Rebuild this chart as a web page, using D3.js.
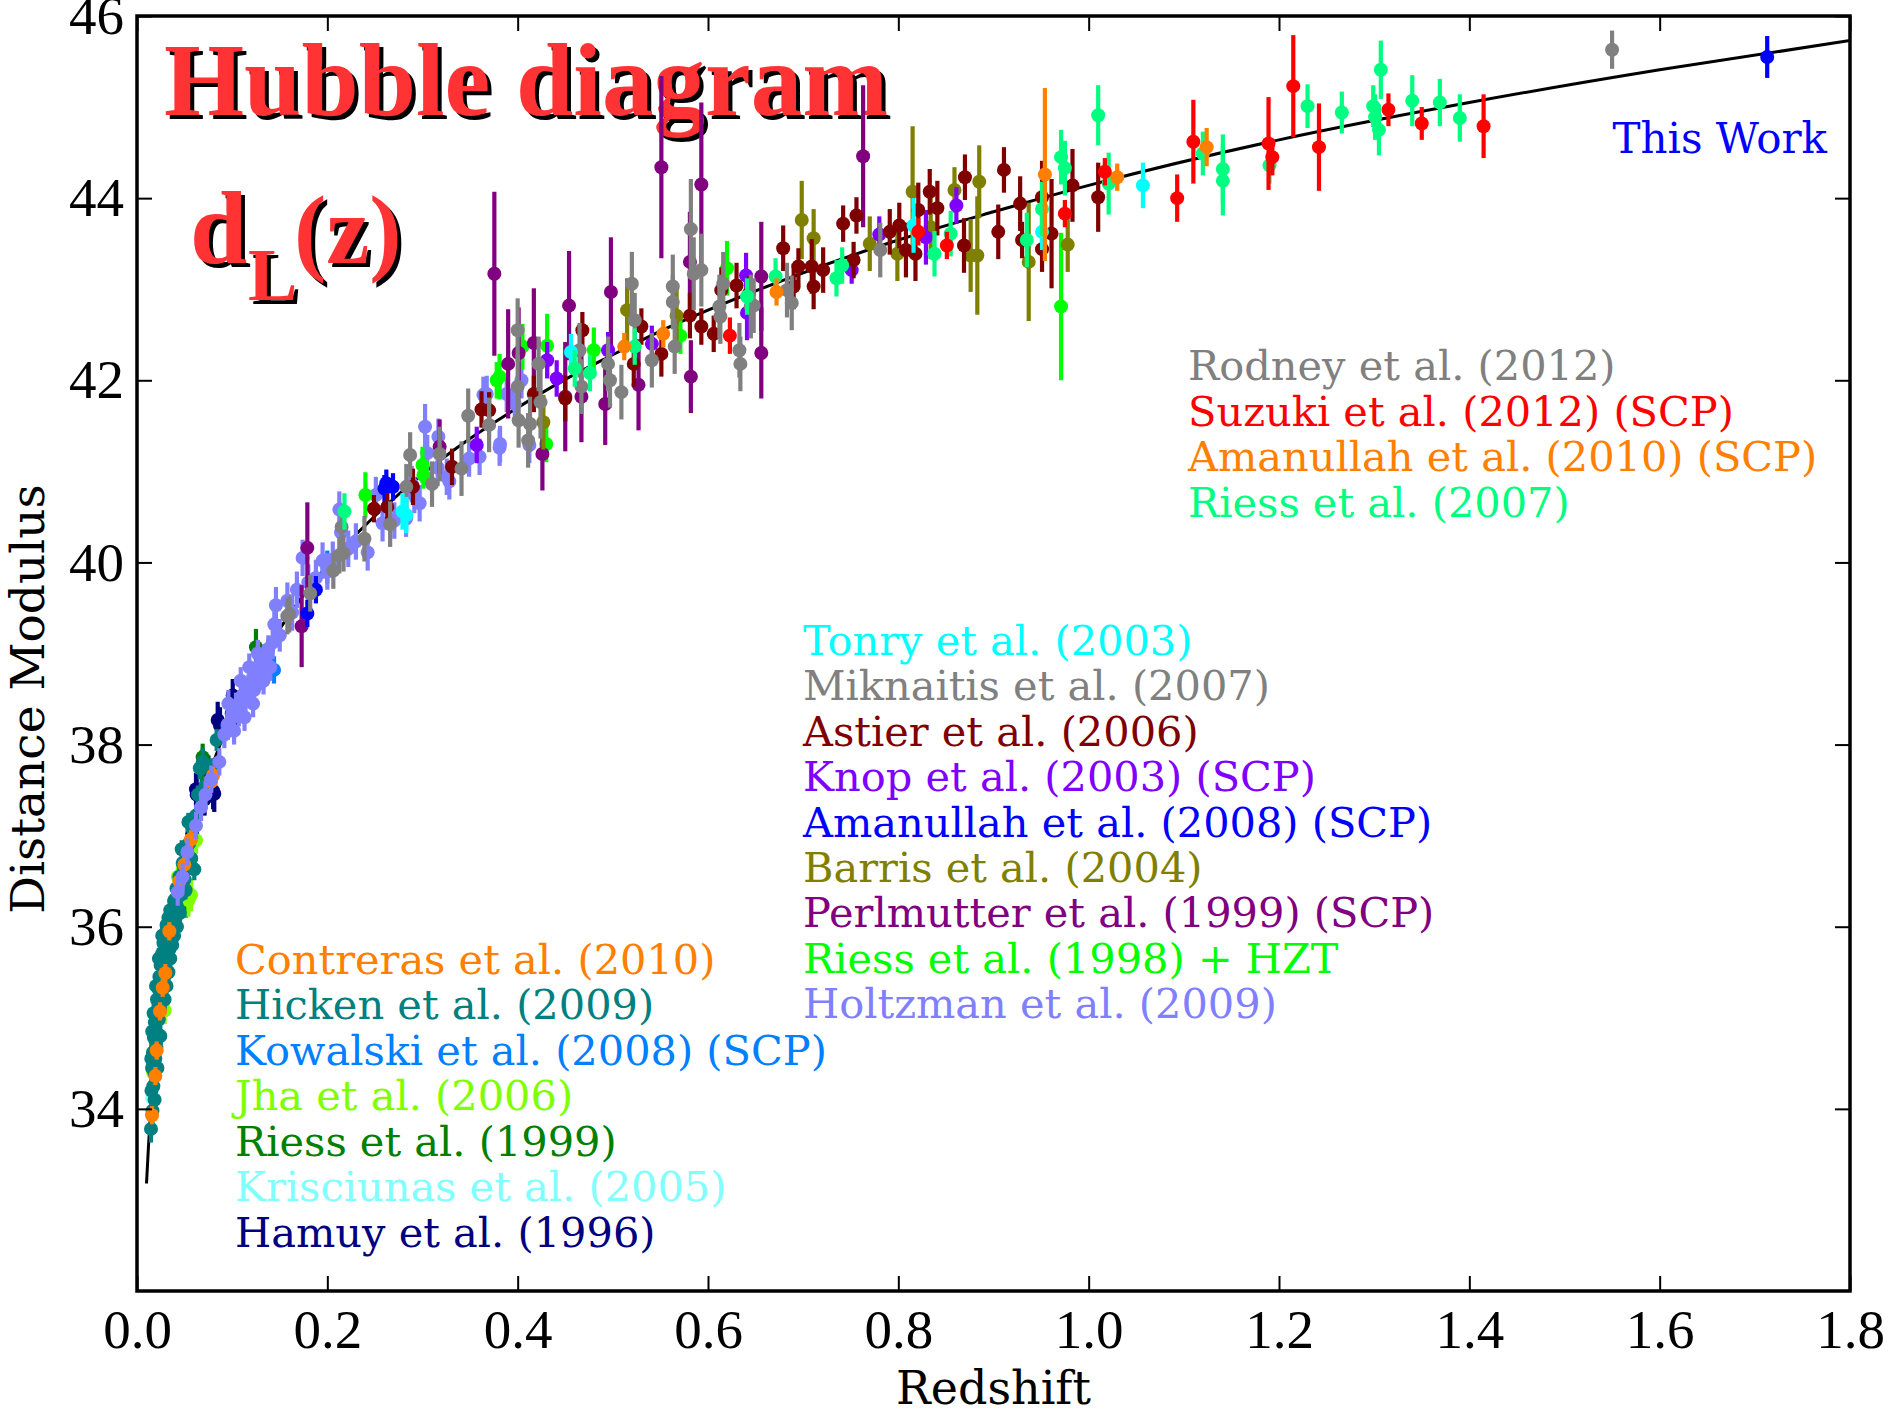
<!DOCTYPE html>
<html><head><meta charset="utf-8">
<script src="https://cdn.jsdelivr.net/npm/d3@7"></script>
<style>html,body{margin:0;padding:0;background:#fff}svg{display:block}</style>
</head><body>
<svg id="chart" width="1893" height="1411"></svg>
<script>
// ---------- DATA: [redshift, distance modulus, error] ----------
const hamuy = [[0.0245,35.12,0.2],[0.030,35.72,0.2],[0.038,36.08,0.18],[0.0445,36.25,0.18],[0.049,36.62,0.18],[0.054,36.79,0.2],[0.055,36.75,0.18],[0.058,37.02,0.18],[0.062,37.51,0.18],[0.0627,37.45,0.2],[0.071,37.40,0.18],[0.075,37.70,0.18],[0.080,37.49,0.2],[0.0812,37.46,0.2],[0.0848,38.27,0.2],[0.0872,38.21,0.2],[0.0995,38.34,0.18],[0.1006,38.54,0.18],[0.104,38.37,0.18]];
const krisciunas = [[0.016,34.12,0.15],[0.024,35.20,0.15],[0.031,35.62,0.15],[0.038,36.02,0.15],[0.044,36.42,0.15]];
const riess1999 = [[0.021,34.82,0.18],[0.032,35.92,0.18],[0.040,36.30,0.18],[0.0515,36.30,0.2],[0.068,37.74,0.2],[0.069,37.86,0.15],[0.125,39.07,0.2]];
const jha = [[0.017,34.40,0.15],[0.0224,35.06,0.15],[0.028,35.60,0.15],[0.029,35.08,0.15],[0.043,36.55,0.15],[0.054,36.29,0.18],[0.0568,36.35,0.18],[0.062,36.95,0.15]];
const kowalski = [[0.020,34.72,0.15],[0.036,36.05,0.15],[0.060,37.10,0.15],[0.095,38.20,0.15],[0.144,38.82,0.15],[0.200,39.95,0.18]];
const hicken = [[0.0147,33.78,0.15],[0.0150,34.55,0.15],[0.0152,34.20,0.15],[0.0158,34.45,0.15],[0.0160,34.85,0.15],[0.0163,33.98,0.15],[0.0168,34.62,0.15],[0.0172,34.25,0.14],[0.0175,35.05,0.14],[0.0178,34.78,0.14],[0.0183,34.40,0.14],[0.0185,34.10,0.14],[0.0188,34.95,0.14],[0.0193,34.55,0.14],[0.0199,35.05,0.13],[0.0200,35.35,0.13],[0.0204,34.68,0.13],[0.021,35.20,0.13],[0.0215,34.45,0.13],[0.0216,34.82,0.13],[0.0222,35.32,0.13],[0.0228,34.98,0.13],[0.0230,35.65,0.12],[0.0235,35.45,0.12],[0.024,35.10,0.12],[0.0245,34.80,0.12],[0.0248,35.58,0.12],[0.0255,35.22,0.12],[0.0262,35.70,0.12],[0.0265,35.90,0.12],[0.027,35.35,0.12],[0.0278,35.82,0.12],[0.0285,35.45,0.11],[0.0290,35.20,0.11],[0.0292,35.92,0.11],[0.030,35.55,0.11],[0.031,36.02,0.11],[0.0310,35.35,0.11],[0.032,35.65,0.11],[0.033,36.10,0.11],[0.0330,35.50,0.11],[0.034,35.75,0.11],[0.035,36.18,0.1],[0.0350,35.65,0.1],[0.036,35.85,0.1],[0.037,36.05,0.1],[0.0370,35.80,0.1],[0.038,35.95,0.1],[0.039,36.28,0.1],[0.0390,35.90,0.1],[0.040,36.10,0.1],[0.0415,36.42,0.1],[0.0420,36.00,0.1],[0.043,36.20,0.1],[0.0445,36.55,0.1],[0.0450,36.15,0.1],[0.046,36.35,0.1],[0.0470,36.85,0.1],[0.048,36.70,0.1],[0.050,36.52,0.1],[0.0510,36.40,0.1],[0.052,36.85,0.1],[0.0540,37.15,0.1],[0.055,36.92,0.1],[0.0570,36.75,0.1],[0.058,37.08,0.1],[0.0602,36.63,0.12],[0.062,37.22,0.1],[0.0640,37.45,0.1],[0.066,37.74,0.12],[0.069,37.81,0.15],[0.072,37.55,0.1],[0.078,37.75,0.1],[0.0837,38.05,0.12]];
const contreras = [[0.0158,33.93,0.1],[0.0193,34.36,0.1],[0.0207,34.64,0.1],[0.0242,35.07,0.1],[0.0270,35.33,0.1],[0.0298,35.49,0.1],[0.0340,35.95,0.1],[0.0445,36.50,0.1],[0.0497,36.68,0.1],[0.0568,36.96,0.1],[0.0778,37.59,0.1],[0.080,37.66,0.1]];
const holtzman = [[0.0428,36.38,0.15],[0.048,36.55,0.15],[0.053,36.82,0.15],[0.062,37.11,0.15],[0.0673,37.31,0.15],[0.072,37.45,0.15],[0.078,37.62,0.15],[0.0865,37.81,0.15],[0.0918,38.11,0.15],[0.0953,38.22,0.15],[0.096,38.45,0.15],[0.100,38.30,0.15],[0.102,38.15,0.15],[0.104,38.42,0.15],[0.107,38.35,0.15],[0.109,38.70,0.15],[0.111,38.54,0.15],[0.113,38.30,0.15],[0.114,38.48,0.15],[0.117,38.62,0.15],[0.118,38.85,0.15],[0.120,38.67,0.15],[0.122,38.45,0.15],[0.123,38.60,0.15],[0.126,38.80,0.15],[0.127,39.00,0.15],[0.1286,38.87,0.15],[0.131,38.75,0.15],[0.133,38.70,0.15],[0.134,38.95,0.15],[0.138,39.05,0.15],[0.140,38.85,0.15],[0.1426,39.12,0.18],[0.1443,39.32,0.18],[0.146,39.53,0.2],[0.150,39.20,0.18],[0.158,39.58,0.2],[0.163,39.45,0.2],[0.168,39.70,0.2],[0.174,40.05,0.2],[0.180,39.78,0.2],[0.188,39.83,0.2],[0.195,40.02,0.2],[0.200,39.90,0.2],[0.2057,40.03,0.2],[0.2144,40.33,0.2],[0.2126,40.58,0.2],[0.222,40.15,0.2],[0.230,40.23,0.2],[0.2424,40.11,0.2],[0.251,40.74,0.2],[0.258,40.43,0.2],[0.2704,40.46,0.2],[0.2827,40.48,0.2],[0.2887,40.86,0.2],[0.2914,40.74,0.2],[0.297,40.65,0.2],[0.3027,41.49,0.25],[0.305,41.20,0.2],[0.316,41.04,0.2],[0.3167,41.38,0.2],[0.3255,40.94,0.2],[0.3282,40.89,0.2],[0.349,41.14,0.2],[0.360,41.16,0.2],[0.364,41.84,0.2],[0.3675,41.85,0.2],[0.3815,41.30,0.2],[0.381,41.26,0.2],[0.3885,41.85,0.2],[0.397,41.74,0.2],[0.404,42.00,0.2],[0.4123,41.29,0.2]];
const riess1998 = [[0.240,40.74,0.25],[0.300,41.07,0.2],[0.301,40.96,0.15],[0.378,42.00,0.2],[0.381,42.04,0.25],[0.405,42.37,0.25],[0.430,41.30,0.2],[0.431,42.38,0.35],[0.480,42.33,0.25],[0.571,42.49,0.2],[0.620,43.23,0.3],[0.971,42.81,0.81]];
const perlmutter = [[0.173,39.30,0.45],[0.179,40.16,0.5],[0.318,41.27,0.3],[0.3755,43.17,0.9],[0.390,42.18,0.6],[0.401,42.30,0.5],[0.417,42.41,0.6],[0.426,41.19,0.4],[0.450,41.82,0.6],[0.454,42.82,0.6],[0.467,41.82,0.5],[0.492,41.74,0.45],[0.498,42.97,0.6],[0.527,41.95,0.5],[0.551,44.34,1.0],[0.581,43.30,0.55],[0.582,42.04,0.4],[0.593,44.15,0.9],[0.656,43.14,0.6],[0.656,42.30,0.5],[0.763,44.46,0.78]];
const barris = [[0.427,41.54,0.3],[0.515,42.77,0.35],[0.567,42.71,0.3],[0.6985,43.76,0.43],[0.711,43.56,0.32],[0.770,43.50,0.3],[0.799,43.39,0.3],[0.815,44.07,0.72],[0.834,43.68,0.35],[0.859,44.09,0.25],[0.876,43.37,0.4],[0.883,43.37,0.65],[0.885,44.18,0.4],[0.937,43.30,0.65],[0.978,43.49,0.3]];
const amanullah2008 = [[0.179,39.44,0.15],[0.188,39.70,0.15],[0.260,40.81,0.15],[0.262,40.87,0.15],[0.269,40.83,0.15]];
const knop = [[0.357,41.29,0.2],[0.431,42.22,0.2],[0.441,42.02,0.2],[0.495,42.33,0.2],[0.541,42.40,0.2],[0.640,43.15,0.25],[0.641,42.74,0.3],[0.751,43.21,0.15],[0.780,43.60,0.2],[0.829,43.57,0.3],[0.861,43.92,0.2]];
const astier = [[0.249,40.59,0.15],[0.263,40.61,0.15],[0.290,40.83,0.2],[0.331,41.05,0.2],[0.362,41.68,0.2],[0.370,41.67,0.2],[0.417,41.85,0.2],[0.450,41.80,0.25],[0.468,42.55,0.2],[0.522,42.18,0.25],[0.530,42.59,0.2],[0.551,42.29,0.25],[0.581,42.71,0.25],[0.593,42.59,0.2],[0.606,42.51,0.2],[0.614,42.99,0.25],[0.630,43.04,0.25],[0.643,42.95,0.2],[0.679,43.45,0.25],[0.690,43.03,0.25],[0.695,43.25,0.2],[0.709,43.25,0.3],[0.711,43.03,0.25],[0.721,43.21,0.25],[0.742,43.72,0.2],[0.756,43.81,0.2],[0.753,43.32,0.2],[0.791,43.63,0.25],[0.801,43.70,0.25],[0.808,43.43,0.3],[0.818,43.39,0.3],[0.821,43.87,0.3],[0.833,44.07,0.25],[0.841,43.89,0.3],[0.869,43.48,0.3],[0.870,44.23,0.25],[0.905,43.63,0.3],[0.911,44.31,0.25],[0.928,43.94,0.3],[0.930,43.54,0.2],[0.951,43.44,0.25],[0.951,44.01,0.4],[0.961,43.61,0.6],[0.983,44.14,0.4],[1.010,44.01,0.38]];
const miknaitis = [[0.158,39.41,0.2],[0.160,39.43,0.2],[0.182,39.66,0.2],[0.2063,39.91,0.2],[0.2126,40.08,0.2],[0.217,40.10,0.2],[0.215,40.39,0.2],[0.239,40.26,0.25],[0.266,40.42,0.25],[0.283,40.83,0.25],[0.287,41.18,0.25],[0.310,40.86,0.25],[0.318,41.19,0.3],[0.341,41.03,0.3],[0.348,41.61,0.3],[0.370,41.51,0.3],[0.400,42.55,0.35],[0.400,41.93,0.35],[0.401,41.56,0.3],[0.411,41.34,0.3],[0.413,41.52,0.3],[0.422,42.18,0.3],[0.424,41.76,0.4],[0.465,42.33,0.3],[0.467,41.93,0.3],[0.495,42.18,0.3],[0.497,42.00,0.3],[0.509,41.87,0.3],[0.520,43.06,0.35],[0.523,42.66,0.3],[0.541,42.22,0.3],[0.563,43.03,0.35],[0.563,42.86,0.3],[0.565,42.37,0.3],[0.582,43.66,0.55],[0.585,43.17,0.4],[0.593,43.21,0.4],[0.612,42.81,0.35],[0.613,42.70,0.3],[0.616,43.06,0.35],[0.633,42.33,0.3],[0.634,42.18,0.3],[0.645,42.81,0.35],[0.648,42.82,0.3],[0.683,42.99,0.3],[0.688,42.85,0.3],[0.781,43.43,0.3]];
const tonry = [[0.279,40.56,0.2],[0.283,40.52,0.2],[0.456,42.31,0.2],[0.816,43.70,0.3],[0.951,43.63,0.2],[1.057,44.14,0.25]];
const riess2007 = [[0.218,40.56,0.2],[0.460,42.13,0.2],[0.476,42.08,0.2],[0.523,42.37,0.2],[0.641,42.92,0.2],[0.671,43.14,0.2],[0.735,43.12,0.2],[0.741,43.26,0.2],[0.838,43.39,0.25],[0.855,43.61,0.25],[0.935,43.54,0.3],[0.951,43.88,0.3],[0.971,44.45,0.3],[0.975,44.33,0.3],[1.010,44.91,0.33],[1.021,44.16,0.34],[1.120,44.49,0.24],[1.141,44.32,0.38],[1.141,44.19,0.38],[1.190,44.36,0.2],[1.230,45.01,0.24],[1.266,44.94,0.23],[1.299,45.01,0.23],[1.301,44.89,0.25],[1.305,44.75,0.28],[1.307,45.41,0.32],[1.340,45.07,0.28],[1.369,45.05,0.26],[1.390,44.88,0.26]];
const amanullah2010 = [[0.512,42.37,0.15],[0.553,42.51,0.15],[0.672,42.97,0.15],[0.954,44.26,0.95],[1.030,44.23,0.15],[1.124,44.56,0.21]];
const suzuki = [[0.623,42.49,0.2],[0.821,43.63,0.15],[0.851,43.48,0.15],[0.975,43.83,0.15],[1.017,44.29,0.15],[1.093,44.00,0.26],[1.110,44.62,0.46],[1.189,44.60,0.51],[1.193,44.45,0.2],[1.215,45.23,0.56],[1.242,44.56,0.48],[1.315,44.97,0.18],[1.350,44.82,0.18],[1.415,44.79,0.35]];
const rodney = [[1.550,45.63,0.21]];
const thisWork = [[1.713,45.55,0.23]];

// model curve
const modelZ  = [0.010,0.012,0.015,0.020,0.025,0.030,0.035,0.040,0.050,0.060,0.070,0.080,0.100,0.120,0.150,0.200,0.250,0.300,0.350,0.400,0.450,0.500,0.550,0.600,0.700,0.800,0.900,1.000,1.200,1.400,1.600,1.800];
const modelMu = [33.18,33.58,34.07,34.70,35.20,35.60,35.95,36.24,36.74,37.16,37.50,37.80,38.32,38.75,39.27,39.97,40.51,40.97,41.36,41.70,42.01,42.28,42.54,42.77,43.18,43.54,43.85,44.14,44.64,45.05,45.41,45.73];

const seriesNames = ["Hamuy et al. (1996)","Krisciunas et al. (2005)","Riess et al. (1999)","Jha et al. (2006)","Kowalski et al. (2008) (SCP)","Hicken et al. (2009)","Contreras et al. (2010)","Holtzman et al. (2009)","Riess et al. (1998) + HZT","Perlmutter et al. (1999) (SCP)","Barris et al. (2004)","Amanullah et al. (2008) (SCP)","Knop et al. (2003) (SCP)","Astier et al. (2006)","Miknaitis et al. (2007)","Tonry et al. (2003)","Riess et al. (2007)","Amanullah et al. (2010) (SCP)","Suzuki et al. (2012) (SCP)","Rodney et al. (2012)","This Work"];
const seriesData = [hamuy,krisciunas,riess1999,jha,kowalski,hicken,contreras,holtzman,riess1998,perlmutter,barris,amanullah2008,knop,astier,miknaitis,tonry,riess2007,amanullah2010,suzuki,rodney,thisWork];
const seriesColors = ["#000080","#80ffff","#008000","#80ff00","#0080ff","#008080","#ff8000","#8080ff","#00ff00","#800080","#808000","#0000ff","#8000ff","#800000","#808080","#00ffff","#00ff80","#ff8000","#ff0000","#808080","#0000ff"];

const legendLowerLeft = ["Contreras et al. (2010)","Hicken et al. (2009)","Kowalski et al. (2008) (SCP)","Jha et al. (2006)","Riess et al. (1999)","Krisciunas et al. (2005)","Hamuy et al. (1996)"];
const legendMiddle = ["Tonry et al. (2003)","Miknaitis et al. (2007)","Astier et al. (2006)","Knop et al. (2003) (SCP)","Amanullah et al. (2008) (SCP)","Barris et al. (2004)","Perlmutter et al. (1999) (SCP)","Riess et al. (1998) + HZT","Holtzman et al. (2009)"];
const legendUpperRight = ["Rodney et al. (2012)","Suzuki et al. (2012) (SCP)","Amanullah et al. (2010) (SCP)","Riess et al. (2007)"];

const xTicks = [0.0,0.2,0.4,0.6,0.8,1.0,1.2,1.4,1.6,1.8];
const yTicks = [34,36,38,40,42,44,46];

// ---------- LAYOUT ----------
const svg = d3.select("#chart");
const L = 137, R = 1850, T = 16, B = 1291;
const x = d3.scaleLinear().domain([0,1.8]).range([L,R]);
const y = d3.scaleLinear().domain([32,46]).range([B,T]);
const colorOf = new Map(seriesNames.map((n,i)=>[n,seriesColors[i]]));

svg.append("rect").attr("width",1893).attr("height",1411).attr("fill","#fff");

svg.append("defs").append("clipPath").attr("id","plotclip")
  .append("rect").attr("x",L).attr("y",T).attr("width",R-L).attr("height",B-T);

// title (drawn under the data)
const title = svg.append("g").style("font-family","'Liberation Serif', 'Times New Roman', serif").style("font-weight","bold");
function shadowText(txt, px, py, size){
  title.append("text").attr("x",px+4).attr("y",py+4).attr("font-size",size).attr("fill","#000").text(txt);
  title.append("text").attr("x",px).attr("y",py).attr("font-size",size).attr("fill","#ff3333").text(txt);
}
shadowText("Hubble diagram",164,115,103);
shadowText("d",190,263,103);
shadowText("L",248,300,74);
shadowText("(z)",294,263,97);

// model line
const plot = svg.append("g").attr("clip-path","url(#plotclip)");
const model = modelZ.map((z,i)=>[z,modelMu[i]]);
plot.append("path").datum(model)
  .attr("fill","none").attr("stroke","#000").attr("stroke-width",3)
  .attr("d", d3.line().x(d=>x(d[0])).y(d=>y(d[1])).curve(d3.curveMonotoneX));

// data points with error bars
seriesData.forEach((data,i)=>{
  const g = plot.append("g").attr("fill",seriesColors[i]).attr("stroke",seriesColors[i]);
  g.selectAll("line").data(data).join("line")
    .attr("x1",d=>x(d[0])).attr("x2",d=>x(d[0]))
    .attr("y1",d=>y(d[1]-d[2])).attr("y2",d=>y(d[1]+d[2]))
    .attr("stroke-width",4.2);
  g.selectAll("circle").data(data).join("circle")
    .attr("cx",d=>x(d[0])).attr("cy",d=>y(d[1])).attr("r",7).attr("stroke","none");
});

// axes (ticks inward on all sides)
const tickFont = "'Liberation Serif', 'Times New Roman', serif";
const axB = svg.append("g").attr("transform",`translate(0,${B})`)
  .call(d3.axisBottom(x).tickValues(xTicks).tickFormat(d3.format(".1f")).tickSize(-15).tickPadding(18));
const axL = svg.append("g").attr("transform",`translate(${L},0)`)
  .call(d3.axisLeft(y).tickValues(yTicks).tickFormat(d3.format("d")).tickSize(-15).tickPadding(13));
const axT = svg.append("g").attr("transform",`translate(0,${T})`)
  .call(d3.axisTop(x).tickValues(xTicks).tickFormat("").tickSize(-15));
const axR = svg.append("g").attr("transform",`translate(${R},0)`)
  .call(d3.axisRight(y).tickValues(yTicks).tickFormat("").tickSize(-15));
[axB,axL,axT,axR].forEach(a=>{
  a.select(".domain").remove();
  a.selectAll(".tick line").attr("stroke","#000").attr("stroke-width",2);
  a.selectAll(".tick text").attr("fill","#000").style("font-family",tickFont).style("font-size","55px");
});

// frame
svg.append("rect").attr("x",L).attr("y",T).attr("width",R-L).attr("height",B-T)
  .attr("fill","none").attr("stroke","#000").attr("stroke-width",3.5);

// axis labels
const labFont = "'DejaVu Serif', serif";
svg.append("text").attr("x",(L+R)/2).attr("y",1404).attr("text-anchor","middle")
  .style("font-family",labFont).style("font-size","46px").attr("fill","#000").text("Redshift");
svg.append("text").attr("transform","translate(44,699) rotate(-90)").attr("text-anchor","middle")
  .style("font-family",labFont).style("font-size","47px").attr("fill","#000").text("Distance Modulus");

// legends (coloured text)
function legend(names, lx, ly, step){
  const g = svg.append("g").style("font-family",labFont).style("font-size","41.5px");
  names.forEach((n,i)=>{
    g.append("text").attr("x",lx).attr("y",ly+i*step).attr("fill",colorOf.get(n)).text(n);
  });
}
legend(legendLowerLeft,235,974,45.45);
legend(legendMiddle,803,655,45.4);
legend(legendUpperRight,1188,380,45.7);
svg.append("text").attr("x",1827).attr("y",153).attr("text-anchor","end")
  .style("font-family",labFont).style("font-size","42px").attr("fill",colorOf.get("This Work")).text("This Work");
</script>
</body></html>
